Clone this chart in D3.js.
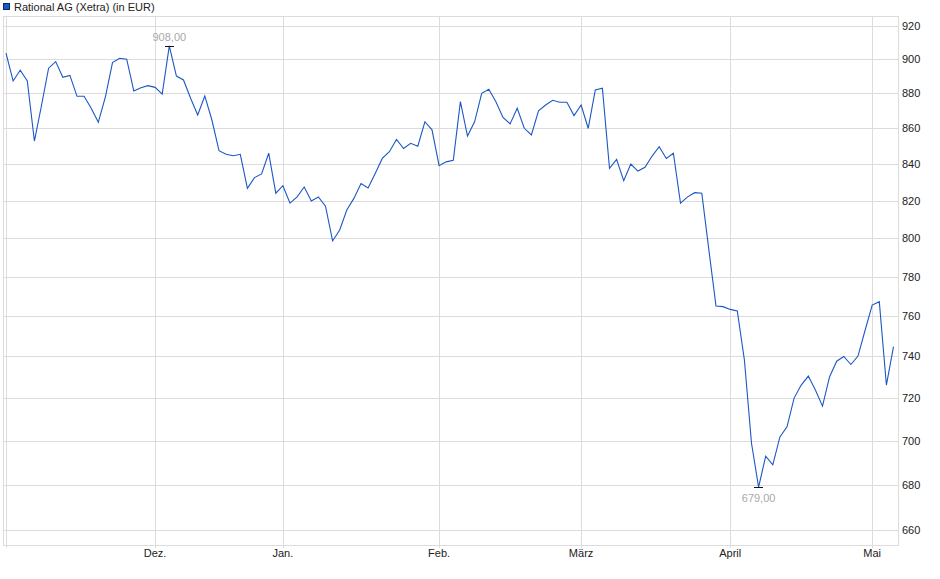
<!DOCTYPE html>
<html lang="de">
<head>
<meta charset="UTF-8">
<script src="https://d3js.org/d3.v7.min.js"></script>
<style>
  body { margin: 0; background: #fff; }
  svg text { font-family: "Liberation Sans", Arial, sans-serif; }
</style>
</head>
<body>
<div id="chart_area"></div>
<script>
  // Rational AG (Xetra), closing prices per trading day, Nov. to early May
  var seriesName = "Rational AG (Xetra) (in EUR)";
  var prices = [
    903.6, 887.2, 893.5, 887.2, 852.8, 873.0, 894.7, 898.6, 889.4, 890.5,
    878.3, 878.3, 871.4, 863.4, 878.0, 898.0, 900.6, 900.0, 881.4, 883.3,
    884.5, 883.5, 879.6, 908.0, 890.1, 887.8, 877.2, 867.6, 878.5, 864.7,
    847.4, 845.4, 844.6, 845.4, 826.7, 832.5, 834.5, 846.0, 824.0, 828.1,
    818.6, 822.0, 827.4, 819.8, 822.0, 817.0, 798.5, 804.3, 814.9, 821.2,
    829.3, 826.9, 834.8, 843.1, 846.8, 853.7, 848.6, 851.5, 849.9, 863.7,
    859.1, 839.1, 841.2, 842.1, 875.2, 855.6, 863.7, 880.0, 882.4, 875.2,
    866.2, 862.5, 871.4, 860.0, 856.2, 870.0, 873.3, 876.0, 874.9, 874.9,
    867.2, 873.3, 860.0, 882.0, 883.0, 837.6, 842.6, 830.8, 840.0, 836.1,
    838.2, 844.4, 849.6, 843.1, 846.0, 818.6, 822.0, 824.3, 824.0, 793.7,
    765.0, 764.7, 763.3, 762.5, 738.3, 698.9, 679.0, 693.0, 689.0, 701.8,
    706.5, 720.0, 726.2, 730.5, 723.8, 716.2, 730.2, 737.7, 740.0, 736.1,
    740.2, 752.9, 765.5, 767.2, 726.2, 744.8
  ];
  // first trading day of each month (index into prices)
  var monthTickIdx = [0, 21, 39, 61, 81, 102, 122];
  var monthTickLabels = ["", "Dez.", "Jan.", "Feb.", "März", "April", "Mai"];
  var yTicks = [660, 680, 700, 720, 740, 760, 780, 800, 820, 840, 860, 880, 900, 920];

  var W = 940, H = 579;
  var plot = { left: 3, right: 898, top: 16, bottom: 545 };
  var gridColor = "#dcdcdc", lineColor = "#1c58c4";

  var svg = d3.select("#chart_area").append("svg")
      .attr("width", W).attr("height", H);

  var x = d3.scaleLinear()
      .domain([0, prices.length - 1])
      .range([6, 6 + (prices.length - 1) * 7.1]);

  var y = d3.scaleLog()
      .domain([653.6, 926])
      .range([plot.bottom, plot.top]);

  var px = function (v) { return Math.round(v) + 0.5; };

  // horizontal grid + right labels
  var gy = svg.append("g");
  gy.selectAll("line").data(yTicks).enter().append("line")
      .attr("x1", plot.left).attr("x2", plot.right)
      .attr("y1", function (d) { return px(y(d)); })
      .attr("y2", function (d) { return px(y(d)); })
      .attr("stroke", gridColor).attr("shape-rendering", "crispEdges");
  gy.selectAll("text").data(yTicks).enter().append("text")
      .attr("x", plot.right + 4)
      .attr("y", function (d) { return y(d) + 4; })
      .attr("font-size", "11px").attr("fill", "#222")
      .text(function (d) { return d; });

  // vertical month grid + labels
  var gx = svg.append("g");
  gx.selectAll("line").data(monthTickIdx).enter().append("line")
      .attr("x1", function (d) { return px(x(d)); })
      .attr("x2", function (d) { return px(x(d)); })
      .attr("y1", plot.top).attr("y2", plot.bottom + 3)
      .attr("stroke", gridColor).attr("shape-rendering", "crispEdges");
  gx.selectAll("text").data(monthTickIdx).enter().append("text")
      .attr("x", function (d) { return x(d); })
      .attr("y", plot.bottom + 12)
      .attr("text-anchor", "middle")
      .attr("font-size", "11px").attr("fill", "#222")
      .text(function (d, i) { return monthTickLabels[i]; });

  // plot frame
  svg.append("rect")
      .attr("x", plot.left + 0.5).attr("y", plot.top + 0.5)
      .attr("width", plot.right - plot.left).attr("height", plot.bottom - plot.top)
      .attr("fill", "none").attr("stroke", gridColor)
      .attr("shape-rendering", "crispEdges");

  // price line
  var line = d3.line()
      .x(function (d, i) { return x(i); })
      .y(function (d) { return y(d); });
  svg.append("path")
      .datum(prices)
      .attr("d", line)
      .attr("fill", "none")
      .attr("stroke", lineColor)
      .attr("stroke-width", 1.1)
      .attr("stroke-linejoin", "miter");

  // high / low markers
  var hiIdx = d3.maxIndex(prices), loIdx = d3.minIndex(prices);
  var fmt = function (v) { return v.toFixed(2).replace(".", ","); };
  [[hiIdx, -1], [loIdx, 1]].forEach(function (m) {
    var cx = x(m[0]), cy = y(prices[m[0]]);
    svg.append("line")
        .attr("x1", cx - 4.5).attr("x2", cx + 4.5)
        .attr("y1", px(cy)).attr("y2", px(cy))
        .attr("stroke", "#111").attr("shape-rendering", "crispEdges");
    svg.append("text")
        .attr("x", cx)
        .attr("y", m[1] < 0 ? cy - 5 : cy + 15)
        .attr("text-anchor", "middle")
        .attr("font-size", "11px").attr("fill", "#a9a9a9")
        .text(fmt(prices[m[0]]));
  });

  // legend
  svg.append("rect")
      .attr("x", 3.5).attr("y", 3.5).attr("width", 6).attr("height", 6)
      .attr("fill", "#1c58c4").attr("stroke", "#0d2a66");
  svg.append("text")
      .attr("x", 14).attr("y", 10.5)
      .attr("font-size", "11px").attr("fill", "#222")
      .text(seriesName);
</script>
</body>
</html>
